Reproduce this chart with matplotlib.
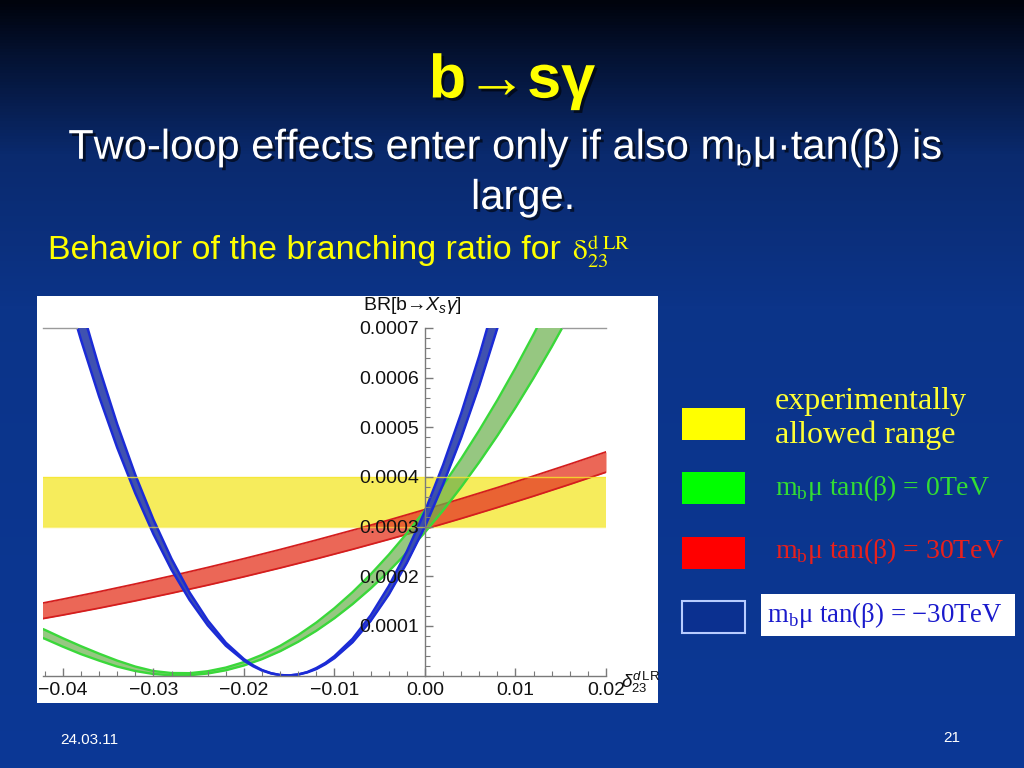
import matplotlib
matplotlib.use("Agg")
import matplotlib.pyplot as plt
import numpy as np
import matplotlib.patheffects as pe
from matplotlib.colors import LinearSegmentedColormap
from matplotlib.patches import Rectangle
from matplotlib.ticker import FixedLocator, MultipleLocator, FuncFormatter

plt.rcParams['font.family'] = ['Liberation Sans', 'DejaVu Sans']
plt.rcParams['mathtext.fontset'] = 'custom'
plt.rcParams['mathtext.rm'] = 'Liberation Sans'
plt.rcParams['mathtext.it'] = 'Liberation Sans:italic'
plt.rcParams['mathtext.bf'] = 'Liberation Sans:bold'

# values, BR in units of 1e-4
unit = 1e-4
exp_lo, exp_hi = 3.0, 4.0

blue_x = [-0.040, -0.038, -0.036, -0.034, -0.032, -0.030, -0.028, -0.026, -0.024, -0.022,
          -0.020, -0.019, -0.018, -0.017, -0.016, -0.015, -0.014, -0.013, -0.012, -0.011,
          -0.010, -0.008, -0.006, -0.004, -0.002, 0.000, 0.002, 0.004, 0.006, 0.008, 0.010]
blue_lo = [7.995, 6.76, 5.62, 4.59, 3.67, 2.85, 2.13, 1.52, 1.01, 0.60,
           0.30, 0.188, 0.10, 0.042, 0.008, 0.0005, 0.019, 0.063, 0.13, 0.229,
           0.35, 0.67, 1.10, 1.63, 2.27, 3.00, 3.85, 4.79, 5.84, 7.00, 8.26]
blue_hi = [8.81, 7.45, 6.20, 5.06, 4.04, 3.14, 2.35, 1.67, 1.11, 0.66,
           0.33, 0.207, 0.11, 0.046, 0.009, 0.0006, 0.021, 0.069, 0.15, 0.253,
           0.39, 0.74, 1.21, 1.80, 2.50, 3.31, 4.24, 5.28, 6.44, 7.71, 9.10]

green_x = [-0.043, -0.042, -0.040, -0.038, -0.036, -0.034, -0.032, -0.030, -0.028, -0.026,
           -0.024, -0.022, -0.020, -0.018, -0.016, -0.014, -0.012, -0.010, -0.008, -0.006,
           -0.004, -0.002, 0.000, 0.002, 0.004, 0.006, 0.008, 0.010, 0.012, 0.014, 0.016]
green_lo = [0.80, 0.74, 0.58, 0.43, 0.30, 0.18, 0.09, 0.03, 0.003, 0.006,
            0.040, 0.105, 0.202, 0.330, 0.489, 0.680, 0.901, 1.154, 1.438, 1.753,
            2.099, 2.477, 2.885, 3.325, 3.796, 4.299, 4.832, 5.397, 5.993, 6.620, 7.278]
green_hi = [0.99, 0.92, 0.75, 0.59, 0.44, 0.30, 0.18, 0.09, 0.05, 0.047,
            0.086, 0.160, 0.270, 0.416, 0.597, 0.815, 1.067, 1.356, 1.679, 2.038,
            2.433, 2.864, 3.329, 3.831, 4.367, 4.941, 5.548, 6.193, 6.872, 7.587, 8.337]

red_x = [-0.044, -0.040, -0.036, -0.032, -0.028, -0.024, -0.020, -0.016, -0.012,
         -0.008, -0.004, 0.000, 0.004, 0.008, 0.012, 0.016, 0.020]
red_lo = [1.087, 1.218, 1.357, 1.504, 1.658, 1.820, 1.989, 2.166, 2.350,
          2.542, 2.741, 2.948, 3.162, 3.384, 3.613, 3.850, 4.095]
red_hi = [1.396, 1.539, 1.688, 1.844, 2.007, 2.177, 2.354, 2.538, 2.729,
          2.927, 3.131, 3.343, 3.561, 3.786, 4.019, 4.258, 4.504]

xticks = [-0.04, -0.03, -0.02, -0.01, 0.00, 0.01, 0.02]
yticks = [0.0001, 0.0002, 0.0003, 0.0004, 0.0005, 0.0006, 0.0007]
xmin, xmax = -0.0422, 0.02
ymax = 0.0007

fig = plt.figure(figsize=(10.24, 7.68), dpi=100)

# slide background
bg = fig.add_axes([0, 0, 1, 1], zorder=-10)
grad = np.linspace(0, 1, 256).reshape(-1, 1)
cmap = LinearSegmentedColormap.from_list('slide', [(0, '#00030c'), (0.07, '#041232'),
                                                   (0.2, '#0a2a6e'), (0.4, '#0c3489'),
                                                   (1, '#0b3896')])
bg.imshow(grad, aspect='auto', cmap=cmap, extent=[0, 1, 0, 1], origin='upper')
bg.set_xlim(0, 1)
bg.set_ylim(0, 1)
bg.axis('off')

def px(x, y):
    return x / 1024, 1 - y / 768

# white panel of the plot
bg.add_patch(Rectangle(px(37, 703), 621 / 1024, 407 / 768, facecolor='white', edgecolor='none'))

ax = fig.add_axes([43 / 1024, 1 - 675.5 / 768, 563 / 1024, 347.5 / 768])
ax.patch.set_visible(False)

bx = np.array(blue_x); gx = np.array(green_x); rx = np.array(red_x)
blo = np.array(blue_lo) * unit; bhi = np.array(blue_hi) * unit
glo = np.array(green_lo) * unit; ghi = np.array(green_hi) * unit
rlo = np.array(red_lo) * unit; rhi = np.array(red_hi) * unit

ax.axhspan(exp_lo * unit, exp_hi * unit, color='#f6ec5c', zorder=1.0, lw=0)
ax.fill_between(rx, rlo, rhi, color='#e63c28', alpha=0.78, lw=0, zorder=1.1)
ax.plot(rx, rlo, color='#d41e1e', lw=1.3, zorder=1.15)
ax.plot(rx, rhi, color='#d41e1e', lw=1.3, zorder=1.15)
ax.fill_between(gx, glo, ghi, color='#6ab04c', alpha=0.7, lw=0, zorder=1.2)
ax.plot(gx, glo, color='#3ad83a', lw=1.7, zorder=1.25)
ax.plot(gx, ghi, color='#3ad83a', lw=1.7, zorder=1.25)
ax.fill_between(bx, blo, bhi, color='#3a4cae', alpha=0.97, lw=0, zorder=1.3)
ax.plot(bx, blo, color='#1b2bd6', lw=1.8, zorder=1.35)
ax.plot(bx, bhi, color='#1b2bd6', lw=1.8, zorder=1.35)
ax.axhline(exp_hi * unit, color='#f8e830', lw=1, alpha=0.8, zorder=1.4)
ax.axhline(exp_lo * unit, color='#f8e830', lw=1, alpha=0.6, zorder=1.4)

# grey frame line where the bands leave the plot range
iv = int(np.argmin(blo))
left_cut = np.interp(ymax, blo[:iv][::-1], bx[:iv][::-1])
ig = int(np.argmin(glo))
right_cut = np.interp(ymax, glo[ig:], gx[ig:])
ax.plot([xmin, left_cut], [ymax, ymax], color='#9a9a9a', lw=1, zorder=1.5, clip_on=False)
ax.plot([right_cut, xmax], [ymax, ymax], color='#9a9a9a', lw=1, zorder=1.5, clip_on=False)

ax.set_xlim(xmin, xmax)
ax.set_ylim(0, ymax)
for s in ['top', 'right']:
    ax.spines[s].set_visible(False)
ax.spines['left'].set_position(('data', 0))
ax.spines['bottom'].set_position(('data', 0))
for s in ['left', 'bottom']:
    ax.spines[s].set_color('#7a7a7a')
    ax.spines[s].set_linewidth(1)
ax.set_axisbelow(False)
ax.xaxis.set_major_locator(FixedLocator(xticks))
ax.xaxis.set_minor_locator(MultipleLocator(0.002))
ax.yaxis.set_major_locator(FixedLocator(yticks))
ax.yaxis.set_minor_locator(MultipleLocator(0.00002))
ax.xaxis.set_major_formatter(FuncFormatter(lambda v, p: f"{v:.2f}".replace('-', '\u2212')))
ax.yaxis.set_major_formatter(FuncFormatter(lambda v, p: f"{v:.4f}"))
ax.tick_params(which='both', direction='in', color='#7a7a7a', labelsize=14, labelcolor='#111111')
ax.tick_params(which='major', length=6, width=1)
ax.tick_params(which='minor', length=3.5, width=0.8)
ax.tick_params(axis='y', pad=4)
ax.tick_params(axis='x', pad=5)

fig.text(*px(412, 306), r'BR[b→$X_s\gamma$]', ha='center', va='center', fontsize=14, color='#111111')
fig.text(*px(641, 682), r'$\delta^{d\,\mathrm{LR}}_{\mathrm{23}}$', ha='center', va='center',
         fontsize=13.5, color='#111111')

# slide texts
shadow = [pe.withSimplePatchShadow(offset=(2, -2), shadow_rgbFace='black', alpha=0.6)]
fig.text(*px(512, 82), 'b→sγ', ha='center', va='center', fontsize=44, fontweight='bold',
         color='#ffff00', path_effects=shadow)
fig.text(*px(505, 148), r'Two-loop effects enter only if also m$_\mathregular{b}$μ·tan(β) is',
         ha='center', va='center', fontsize=30, color='white', path_effects=shadow)
fig.text(*px(523, 198), 'large.', ha='center', va='center', fontsize=30, color='white',
         path_effects=shadow)
fig.text(*px(48, 251), 'Behavior of the branching ratio for', ha='left', va='center',
         fontsize=24.5, color='#ffff00')
fig.text(*px(572, 252), r'$\mathrm{δ}^{\mathrm{d\ LR}}_{\mathrm{23}}$', ha='left', va='center',
         fontsize=21, color='#ffff00', math_fontfamily='stix')

# legend boxes
bg.add_patch(Rectangle(px(682, 440), 63 / 1024, 32 / 768, facecolor='#ffff00', edgecolor='none'))
bg.add_patch(Rectangle(px(682, 504), 63 / 1024, 32 / 768, facecolor='#00ff00', edgecolor='none'))
bg.add_patch(Rectangle(px(682, 569), 63 / 1024, 32 / 768, facecolor='#ff0000', edgecolor='none'))
bg.add_patch(Rectangle(px(682, 633), 63 / 1024, 32 / 768, facecolor='#0b3090', edgecolor='#b8ccff', lw=1.5))
bg.add_patch(Rectangle(px(761, 636), 254 / 1024, 42 / 768, facecolor='white', edgecolor='none'))

serif = ['Liberation Serif', 'DejaVu Serif']
fig.text(*px(775, 402), 'experimentally', ha='left', va='center', fontsize=23, color='#ffff33', family=serif)
fig.text(*px(775, 435), 'allowed range', ha='left', va='center', fontsize=23, color='#ffff33', family=serif)
fig.text(*px(775, 488), r'm$_\mathregular{b}$μ tan(β) = 0TeV', ha='left', va='center', fontsize=20,
         color='#33dd33', family=serif)
fig.text(*px(775, 551), r'm$_\mathregular{b}$μ tan(β) = 30TeV', ha='left', va='center', fontsize=20,
         color='#e8201c', family=serif)
fig.text(*px(767, 615), r'm$_\mathregular{b}$μ tan(β) = −30TeV', ha='left', va='center', fontsize=19.3,
         color='#1a1acc', family=serif)

fig.text(*px(60, 740), '24.03.11', ha='left', va='center', fontsize=11, color='white')
fig.text(*px(952, 738), '21', ha='center', va='center', fontsize=11, color='white')

fig.savefig('out.png', dpi=100)
